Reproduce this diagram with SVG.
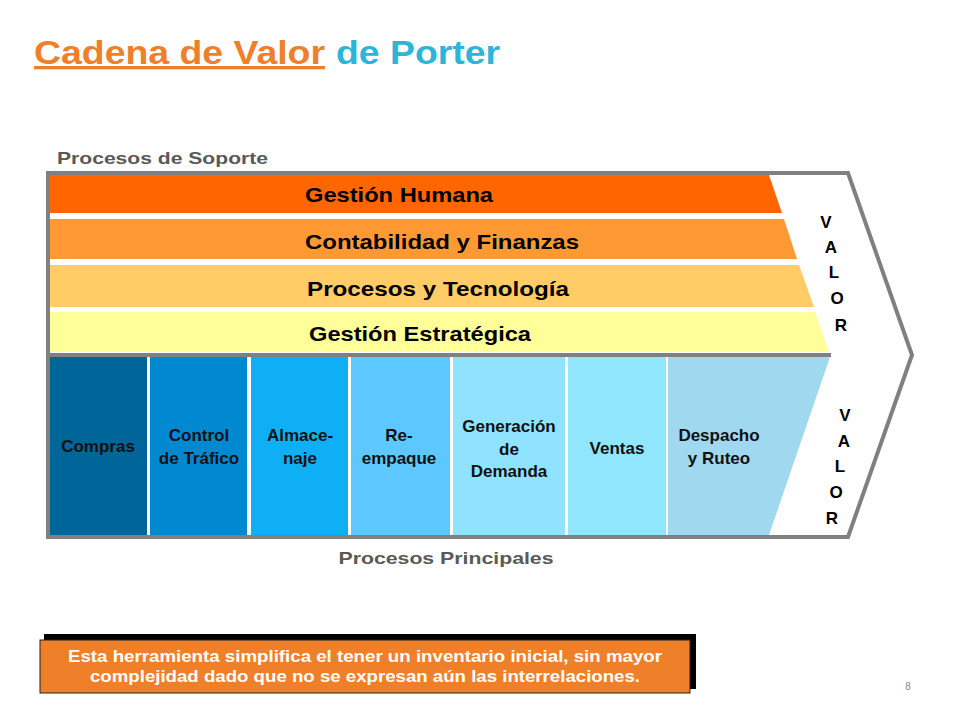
<svg xmlns="http://www.w3.org/2000/svg" width="960" height="720" viewBox="0 0 960 720">
<style>
text{font-family:"Liberation Sans",Arial,sans-serif;font-weight:bold}
.s{font-size:21px;fill:#000;text-anchor:middle}
.c{font-size:17px;fill:#111;text-anchor:middle}
.v{font-size:17px;fill:#000;text-anchor:middle}
.g{font-size:17px;fill:#595959}
</style>
<rect width="960" height="720" fill="#fff"/>
<text x="34" y="64" font-size="33" fill="#F07F2A" text-decoration="underline" textLength="291" lengthAdjust="spacingAndGlyphs">Cadena de Valor</text>
<text x="336" y="64" font-size="33" fill="#2CB5D9" textLength="164" lengthAdjust="spacingAndGlyphs">de Porter</text>
<text class="g" x="57" y="164" textLength="211" lengthAdjust="spacingAndGlyphs">Procesos de Soporte</text>
<g id="frame"><path d="M48,173 H848 L912,355 L848,537 H48 Z" fill="#fff" stroke="#808080" stroke-width="4"/></g>
<g id="support">
<g id="gh"><polygon points="50,175 769,175 782,213 50,213" fill="#FF6600"/><text class="s" x="399" y="202" textLength="188" lengthAdjust="spacingAndGlyphs">Gestión Humana</text></g>
<g id="cf"><polygon points="50,219 784,219 797,259 50,259" fill="#FF9933"/><text class="s" x="442" y="249" textLength="274" lengthAdjust="spacingAndGlyphs">Contabilidad y Finanzas</text></g>
<g id="pt"><polygon points="50,265 799,265 814,307 50,307" fill="#FFCC66"/><text class="s" x="438" y="296" textLength="262" lengthAdjust="spacingAndGlyphs">Procesos y Tecnología</text></g>
<g id="ge"><polygon points="50,312 815,312 829,352 50,352" fill="#FFFF99"/><text class="s" x="420" y="341" textLength="222" lengthAdjust="spacingAndGlyphs">Gestión Estratégica</text></g>
</g>
<line x1="48" y1="355" x2="831" y2="355" stroke="#808080" stroke-width="4"/>
<g id="primary">
<g id="compras"><rect x="50" y="357" width="97" height="178" fill="#006699"/><text class="c" x="98" y="452">Compras</text></g>
<g id="control"><rect x="150" y="357" width="97" height="178" fill="#0088D1"/><text class="c" x="199" y="441">Control</text><text class="c" x="199" y="464">de Tráfico</text></g>
<g id="almace"><rect x="251" y="357" width="97" height="178" fill="#0FAFF5"/><text class="c" x="300" y="441">Almace-</text><text class="c" x="300" y="464">naje</text></g>
<g id="re"><rect x="351" y="357" width="99" height="178" fill="#5CC8FF"/><text class="c" x="399" y="441">Re-</text><text class="c" x="399" y="464">empaque</text></g>
<g id="gen"><rect x="453" y="357" width="112" height="178" fill="#8FE3FF"/><text class="c" x="509" y="432">Generación</text><text class="c" x="509" y="455">de</text><text class="c" x="509" y="477">Demanda</text></g>
<g id="ventas"><rect x="568" y="357" width="98" height="178" fill="#90E6FD"/><text class="c" x="617" y="454">Ventas</text></g>
<g id="despacho"><polygon points="668,357 830,357 769,535 668,535" fill="#A0D8F0"/><text class="c" x="719" y="441">Despacho</text><text class="c" x="719" y="464">y Ruteo</text></g>
</g>
<g id="valor1"><text class="v" x="826" y="228">V</text><text class="v" x="831" y="253">A</text><text class="v" x="834" y="278">L</text><text class="v" x="837" y="304">O</text><text class="v" x="841" y="331">R</text></g>
<g id="valor2"><text class="v" x="845" y="421">V</text><text class="v" x="844" y="447">A</text><text class="v" x="840" y="472">L</text><text class="v" x="836" y="498">O</text><text class="v" x="832" y="524">R</text></g>
<text class="g" x="446" y="564" text-anchor="middle" textLength="215" lengthAdjust="spacingAndGlyphs">Procesos Principales</text>
<g id="note">
<rect x="44" y="634" width="652" height="55" fill="#000"/>
<rect x="40" y="640" width="650" height="53" fill="#F07F2A" stroke="#222" stroke-width="1"/>
<text x="365" y="662" font-size="17" fill="#fff" text-anchor="middle" textLength="594" lengthAdjust="spacingAndGlyphs">Esta herramienta simplifica el tener un inventario inicial, sin mayor</text>
<text x="365" y="682" font-size="17" fill="#fff" text-anchor="middle" textLength="550" lengthAdjust="spacingAndGlyphs">complejidad dado que no se expresan aún las interrelaciones.</text>
</g>
<text x="908" y="690" font-size="10" fill="#888" text-anchor="middle" style="font-weight:normal">8</text>
</svg>
